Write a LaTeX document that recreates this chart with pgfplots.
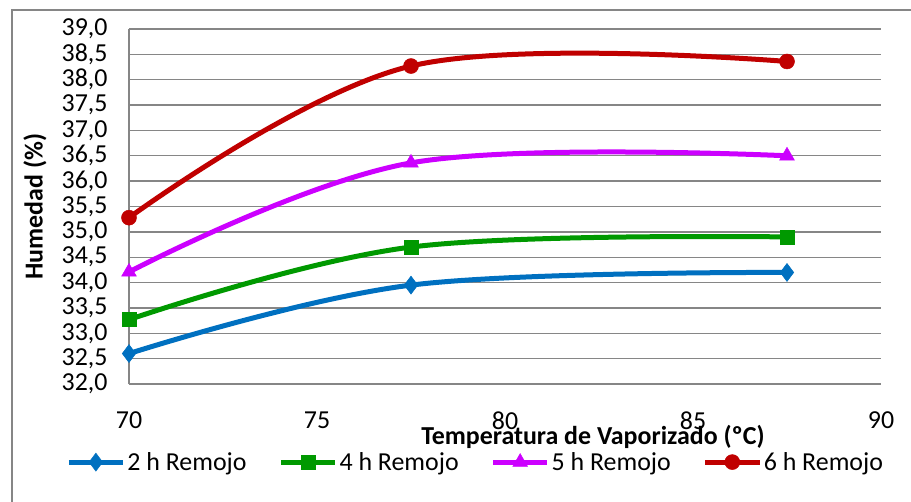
\documentclass[border=0pt]{standalone}
\usepackage{pgfplots}
\pgfplotsset{compat=1.18}
\usepackage{fontspec}
\setmainfont{Carlito}
\definecolor{cblue}{HTML}{0070C0}
\definecolor{cgreen}{HTML}{009900}
\definecolor{cmag}{HTML}{CC00FF}
\definecolor{cred}{HTML}{C00000}
\definecolor{gridgray}{HTML}{868686}
\begin{document}
\begin{tikzpicture}
\useasboundingbox (-129bp,-118bp) rectangle (782bp,384bp);
\draw[color=gridgray, line width=1.3bp] (-117bp,-130bp) -- (-117bp,374bp) -- (800bp,374bp);
\begin{axis}[
    scale only axis,
    width=752bp, height=355bp,
    xmin=70, xmax=90, ymin=32, ymax=39,
    xtick={70,75,80,85,90},
    ytick={32,32.5,...,39},
    ymajorgrids,
    grid style={color=gridgray, line width=1.3bp},
    axis x line*=bottom, axis y line*=left,
    axis line style={-, color=gridgray, line width=1.3bp},
    major tick length=0pt,
    tick label style={font=\fontsize{26}{30}\selectfont},
    /pgf/number format/assume math mode=true,
    yticklabel style={xshift=-18bp, /pgf/number format/.cd, fixed, fixed zerofill, precision=1, use comma},
    xticklabel style={yshift=-24bp},
    xlabel={\textbf{Temperatura de Vaporizado (ºC)}},
    xlabel style={font=\fontsize{26}{30}\selectfont, at={(axis description cs:0.617,-0.149)}, anchor=center},
    ylabel={\textbf{Humedad (\%)}},
    ylabel style={font=\fontsize{26}{30}\selectfont, at={(axis description cs:-0.125,0.5)}, anchor=center, rotate=0},
    legend columns=4,
    legend style={draw=none, fill=none, font=\fontsize{26}{30}\selectfont,
        at={(axis description cs:0.461,-0.22)}, anchor=center,
        /tikz/every even column/.append style={column sep=30bp}},
    legend image code/.code={\draw[mark repeat=2, mark phase=2, #1] plot coordinates {(0bp,0bp) (27bp,0bp) (54bp,0bp)};},
    every axis plot/.append style={line width=5bp, smooth, tension=0.6},
]
\addplot[color=cblue, mark=diamond*, mark size=9bp, mark options={solid, line width=0.5bp}] coordinates {
    (70,32.60) (77.5,33.95) (87.5,34.20)
};
\addplot[color=cgreen, mark=square*, mark size=7bp, mark options={solid, line width=0.5bp}] coordinates {
    (70,33.27) (77.5,34.70) (87.5,34.90)
};
\addplot[color=cmag, mark=triangle*, mark size=8.5bp, mark options={solid, line width=0.5bp}] coordinates {
    (70,34.21) (77.5,36.36) (87.5,36.50)
};
\addplot[color=cred, mark=*, mark size=7.5bp, mark options={solid, line width=0.5bp}] coordinates {
    (70,35.28) (77.5,38.27) (87.5,38.36)
};
\legend{2 h Remojo, 4 h Remojo, 5 h Remojo, 6 h Remojo}
\end{axis}
\end{tikzpicture}
\end{document}
